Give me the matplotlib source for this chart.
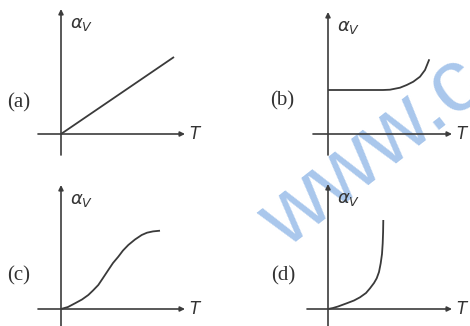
import numpy as np
import matplotlib
matplotlib.use("Agg")
import matplotlib.pyplot as plt

plt.rcParams['mathtext.fontset'] = 'dejavusans'

# ---- data (arbitrary units, origin at the axis crossing) ----
labels = ["(a)", "(b)", "(c)", "(d)"]
a_T = [0, 113]
a_alpha = [0, 77]

b_T = [0, 20, 40, 55, 62, 72, 78.7, 85.3, 92, 97, 101.3]
b_alpha = [44, 44, 44, 44, 44.3, 46.3, 49, 52.3, 57.3, 64, 74.7]

c_T = [0, 7, 14, 21, 27.3, 32, 37.3, 42, 47.3, 52, 57.3, 62, 67.3, 74, 80.7, 86, 92, 99]
c_alpha = [0, 2, 5.7, 9.5, 14, 18.5, 24, 31, 39, 46, 52.3, 58.5, 64, 69.5, 74, 76.3, 77.6, 78.3]

d_T = [0, 5, 10, 18.7, 26, 32, 38, 42, 46, 48.7, 51, 52.7, 54, 54.7, 55.1, 55.3]
d_alpha = [0, 1, 2.5, 5.7, 8.5, 11.7, 16, 20.7, 26, 30.7, 37, 45.7, 55, 65.7, 77, 89]

curves = [(a_T, a_alpha), (b_T, b_alpha), (c_T, c_alpha), (d_T, d_alpha)]
y_label = r"$\alpha_V$"
x_label = "T"
watermark = "www.c"

# ---- layout (pixels) ----
W, H = 470, 326
# origin x, origin y, x-axis left, x-axis tip, y-axis bottom, y-axis tip, label x, label y
layout = [
    (61, 134, 38, 185, 155, 9, 7, 103),
    (328, 134, 313, 452, 155, 12, 270, 101),
    (61, 309, 38, 185, 326, 185, 7, 276),
    (328, 309, 307, 452, 326, 184, 271, 276),
]

fig = plt.figure(figsize=(W / 100, H / 100), dpi=100)
fig.patch.set_facecolor('white')

# watermark
fig.text(286 / W, 1 - 250 / H, watermark, rotation=38, rotation_mode='anchor',
         ha='left', va='baseline', fontsize=64, color='#a9c7ec',
         family='Liberation Sans', zorder=-5)

axcol = '#3c3c3c'
curvecol = '#3a3a3a'
for (T, A), lab, (ox, oy, xl, xr, yb, yt, lx, ly) in zip(curves, labels, layout):
    left, right = xl - 5, xr + 25
    top, bottom = yt - 5, min(yb + 2, H)
    ax = fig.add_axes([left / W, 1 - bottom / H, (right - left) / W, (bottom - top) / H])
    ax.set_xlim(left - ox, right - ox)
    ax.set_ylim(oy - bottom, oy - top)
    ax.axis('off')
    ax.set_facecolor('none')
    ax.annotate("", xy=(xr - ox, 0), xytext=(xl - ox, 0),
                arrowprops=dict(arrowstyle='-|>', mutation_scale=7, lw=1.2,
                                color=axcol, shrinkA=0, shrinkB=0))
    ax.annotate("", xy=(0, oy - yt), xytext=(0, oy - yb),
                arrowprops=dict(arrowstyle='-|>', mutation_scale=7, lw=1.2,
                                color=axcol, shrinkA=0, shrinkB=0))
    ax.plot(T, A, color=curvecol, lw=1.3, solid_capstyle='butt',
            solid_joinstyle='round', clip_on=False)
    ax.text(9, oy - yt - 15, y_label, fontsize=13, color='#333333',
            ha='left', va='center')
    ax.text(xr - ox + 4, 0, x_label, fontsize=12, style='italic',
            family='DejaVu Sans', color='#333333', ha='left', va='center')
    fig.text(lx / W, 1 - ly / H, lab, fontsize=15, family='Liberation Serif',
             color='#333333', ha='left', va='center')

fig.savefig("out.png", dpi=100)
